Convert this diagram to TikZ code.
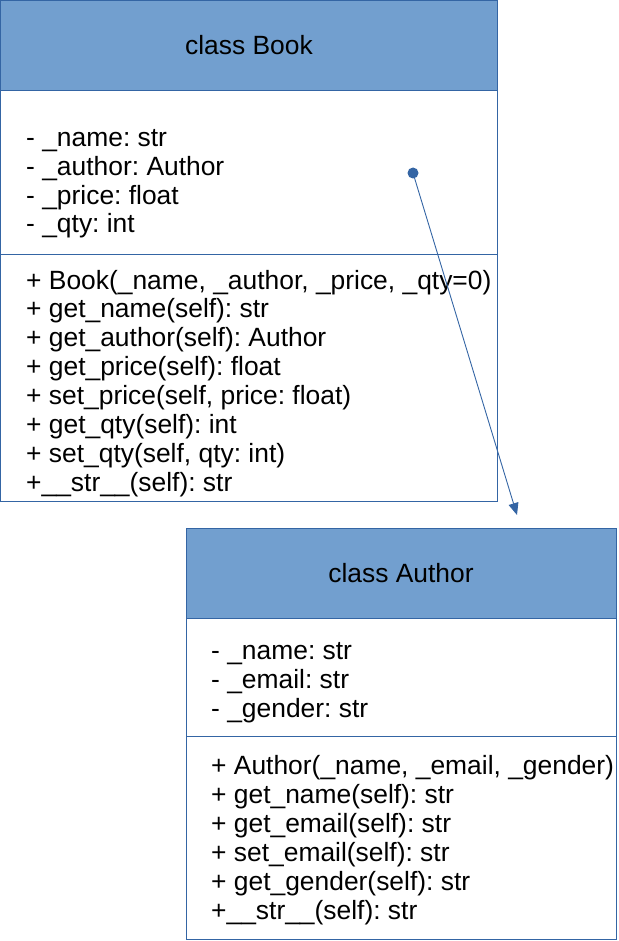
\documentclass[tikz,border=0pt]{standalone}
\usepackage{fontspec}
\setmainfont{Liberation Sans}
\usetikzlibrary{arrows.meta}
\definecolor{umlline}{HTML}{3465A4}
\definecolor{umlfill}{HTML}{729FCF}
\tikzset{
  x=1pt, y=-1pt,
  boxline/.style={draw=umlline, line width=1pt},
  header/.style={boxline, fill=umlfill},
  txt/.style={anchor=base west, inner sep=0pt, font=\frenchspacing\fontsize{26.4}{29}\selectfont},
  ttl/.style={anchor=base, inner sep=0pt, font=\frenchspacing\fontsize{26.4}{29}\selectfont},
  assoc/.style={draw=umlline, line width=0.9pt, -{Triangle[length=12pt,width=10pt]}}
}
\begin{document}
\begin{tikzpicture}
\useasboundingbox (0,0) rectangle (618,941);
% Book
\draw[header] (0.5,0.5) rectangle (497,90.5);
\draw[boxline] (0.5,90.5) rectangle (497,501.5);
\draw[boxline] (0.5,254) -- (497,254);
\node[ttl] (btitle) at (249,55) {class Book};
\foreach \t [count=\i] in {- \_name: str, - \_author: Author, - \_price: float, - \_qty: int}
  \node[txt] (ba\i) at (26,{146.5+28.8*(\i-1)}) {\t};
\foreach \t [count=\i] in {{+ Book(\_name, \_author, \_price, \_qty=0)}, + get\_name(self): str, + get\_author(self): Author, + get\_price(self): float, {+ set\_price(self, price: float)}, + get\_qty(self): int, {+ set\_qty(self, qty: int)}, +\_\_str\_\_(self): str}
  \node[txt] (bm\i) at (26,{289+28.9*(\i-1)}) {\t};
% Author
\draw[header] (186.5,528.5) rectangle (616.5,618.5);
\draw[boxline] (186.5,618.5) rectangle (616.5,939.5);
\draw[boxline] (186.5,736.5) -- (616.5,736.5);
\node[ttl] (atitle) at (401,582.5) {class Author};
\foreach \t [count=\i] in {- \_name: str, - \_email: str, - \_gender: str}
  \node[txt] (aa\i) at (211,{659.5+28.8*(\i-1)}) {\t};
\foreach \t [count=\i] in {{+ Author(\_name, \_email, \_gender)}, + get\_name(self): str, + get\_email(self): str, + set\_email(self): str, + get\_gender(self): str, +\_\_str\_\_(self): str}
  \node[txt] (am\i) at (211,{774.5+28.9*(\i-1)}) {\t};
% association
\coordinate (src) at (413,173);
\coordinate (dst) at (517,515);
\fill[umlline] (src) circle (5.5);
\draw[assoc] (src) -- (dst);
\end{tikzpicture}
\end{document}
